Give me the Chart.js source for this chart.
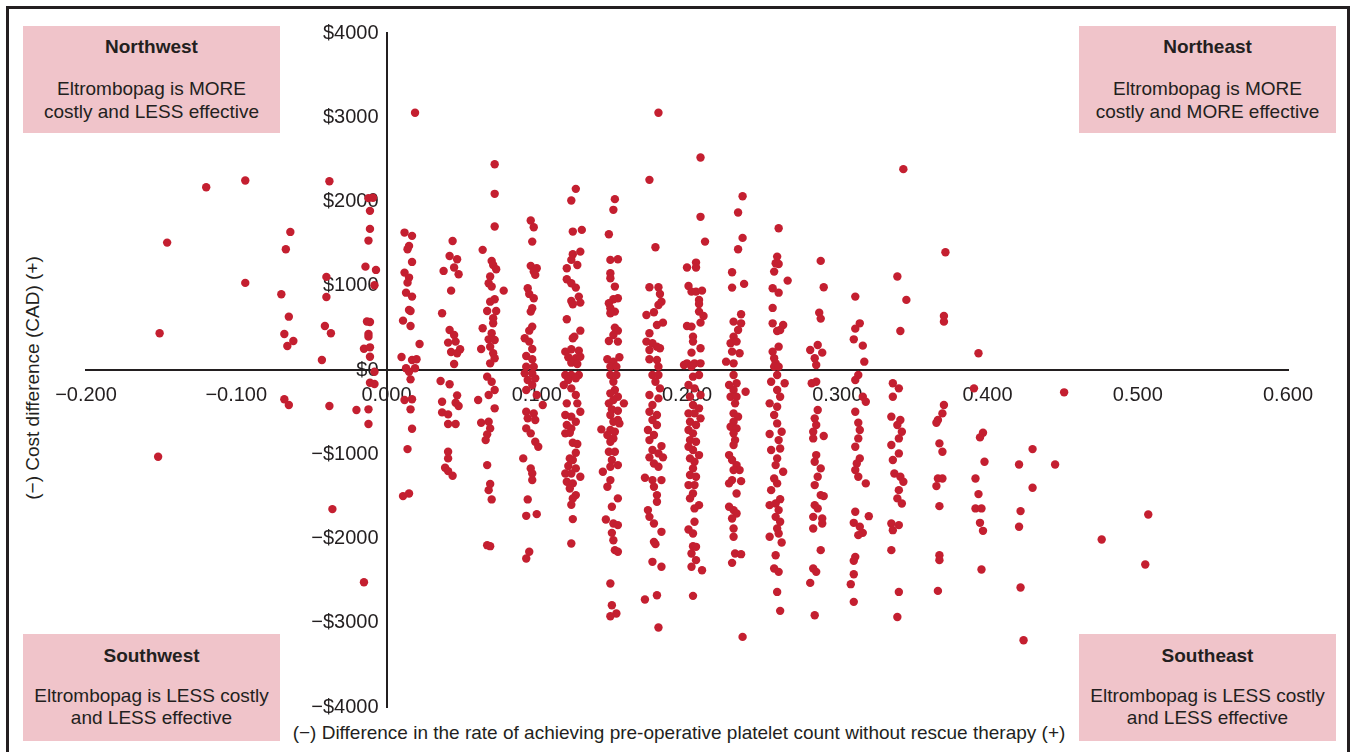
<!DOCTYPE html>
<html>
<head>
<meta charset="utf-8">
<script src="https://cdn.jsdelivr.net/npm/chart.js@4.4.1/dist/chart.umd.min.js"></script>
<style>
  body { margin: 0; background: #fff; font-family: "Liberation Sans", Arial, sans-serif; color: #231f20; }
  #wrap { position: relative; width: 1353px; height: 752px; overflow: hidden; }
  #frame { position: absolute; left: 6px; top: 6px; width: 1338px; height: 800px; border: 3px solid #231f20; }
  canvas { position: absolute; left: 0; top: 0; }
  .quad { position: absolute; width: 257px; height: 107px; background: #f0c4ca; text-align: center; }
  .quad .head { font-weight: bold; font-size: 19px; line-height: 22px; }
  .quad .body { font-size: 19px; }
  .ytitle { position: absolute; left: 33px; top: 378px; font-size: 19px; white-space: nowrap;
            transform: translate(-50%, -50%) rotate(-90deg); }
  .xtitle { position: absolute; left: 679px; top: 733px; font-size: 19px; white-space: nowrap;
            transform: translate(-50%, -50%); }
</style>
</head>
<body>
<div id="wrap">
  <div id="frame"></div>
  <div class="quad" style="left:23px; top:26px;">
    <div class="head" style="margin-top:10px;">Northwest</div>
    <div class="body" style="margin-top:19px; line-height:23px;">Eltrombopag is MORE<br>costly and LESS effective</div>
  </div>
  <div class="quad" style="left:1079px; top:26px;">
    <div class="head" style="margin-top:10px;">Northeast</div>
    <div class="body" style="margin-top:19px; line-height:23px;">Eltrombopag is MORE<br>costly and MORE effective</div>
  </div>
  <div class="quad" style="left:23px; top:634px;">
    <div class="head" style="margin-top:11px;">Southwest</div>
    <div class="body" style="margin-top:18px; line-height:22px;">Eltrombopag is LESS costly<br>and LESS effective</div>
  </div>
  <div class="quad" style="left:1079px; top:634px;">
    <div class="head" style="margin-top:11px;">Southeast</div>
    <div class="body" style="margin-top:18px; line-height:22px;">Eltrombopag is LESS costly<br>and LESS effective</div>
  </div>
  <div class="ytitle">(−) Cost difference (CAD) (+)</div>
  <div class="xtitle">(−) Difference in the rate of achieving pre-operative platelet count without rescue therapy (+)</div>
  <canvas id="plane" width="1353" height="752"></canvas>
</div>
<script>
// tick labels
const xTickLabels = ['−0.200', '−0.100', '0.000', '0.100', '0.200', '0.300', '0.400', '0.500', '0.600'];
const yTickLabels = ['−$4000', '−$3000', '−$2000', '−$1000', '$0', '$1000', '$2000', '$3000', '$4000'];

// simulation points [effect difference, cost difference], read column by column
const leftPoints = [[-0.146,1512],[-0.120,2170],[-0.094,2249],[-0.038,2241],[-0.012,2040],[-0.009,2045],[-0.011,1889],
  [-0.011,1675],[-0.012,1536],[-0.064,1639],[-0.067,1434],[-0.014,1227],[-0.007,1188],[-0.040,1105],[-0.008,1006],
  [-0.094,1034],[-0.070,899],[-0.040,867],[-0.065,633],[-0.151,436],[-0.041,523],[-0.037,436],[-0.013,576],[-0.011,570],
  [-0.012,428],[-0.012,396],[-0.068,428],[-0.062,345],[-0.066,285],[-0.015,253],[-0.011,269],[-0.011,158],[-0.043,119],
  [-0.008,-20],[-0.011,-151],[-0.008,-166],[-0.068,-348],[-0.065,-416],[-0.038,-428],[-0.020,-475],[-0.012,-467],
  [-0.012,-641],[-0.152,-1030],[-0.036,-1651],[-0.015,-2519]];
const col1 = [[0.019,3053],[0.012,1631],[0.017,1592],[0.015,1473],[0.014,1434],[0.017,1283],[0.012,1156],[0.015,1097],
  [0.014,1037],[0.013,918],[0.017,871],[0.015,713],[0.016,701],[0.011,586],[0.016,523],[0.022,309],[0.010,154],[0.017,119],
  [0.020,127],[0.013,20],[0.019,20],[0.015,-20],[0.016,-111],[0.012,-356],[0.017,-348],[0.016,-467],[0.017,-697],
  [0.014,-939],[0.011,-1497],[0.015,-1465]];
const col2 = [[0.044,1532],[0.042,1354],[0.047,1315],[0.038,1176],[0.045,1216],[0.048,1137],[0.043,942],[0.037,673],
  [0.042,475],[0.045,416],[0.041,325],[0.046,337],[0.049,246],[0.043,214],[0.047,198],[0.045,71],[0.036,-131],[0.042,-170],
  [0.047,-301],[0.037,-376],[0.046,-388],[0.048,-428],[0.037,-503],[0.041,-527],[0.041,-641],[0.046,-641],[0.041,-970],
  [0.041,-1049],[0.039,-1160],[0.041,-1200],[0.044,-1255]];
const col3 = [[0.072,2443],[0.072,2091],[0.072,1703],[0.064,1426],[0.070,1295],[0.071,1247],[0.073,1196],[0.069,1109],
  [0.068,1030],[0.070,990],[0.078,942],[0.072,840],[0.069,811],[0.067,701],[0.073,701],[0.071,614],[0.071,554],[0.064,495],
  [0.070,436],[0.068,364],[0.072,356],[0.063,249],[0.069,277],[0.071,198],[0.072,139],[0.069,79],[0.067,-79],[0.070,-139],
  [0.072,-238],[0.061,-356],[0.068,-297],[0.072,-455],[0.063,-626],[0.068,-614],[0.069,-693],[0.067,-764],[0.066,-832],
  [0.067,-1129],[0.069,-1354],[0.068,-1426],[0.070,-1536],[0.067,-2079],[0.069,-2091]];
const col4 = [[0.096,1774],[0.098,1695],[0.097,1524],[0.096,1236],[0.100,1208],[0.098,1168],[0.099,1129],[0.094,970],
  [0.095,903],[0.098,852],[0.097,733],[0.096,693],[0.097,515],[0.095,467],[0.092,376],[0.095,337],[0.097,249],[0.093,166],
  [0.097,127],[0.093,40],[0.098,40],[0.092,-40],[0.097,-40],[0.094,-119],[0.099,-99],[0.093,-238],[0.097,-178],[0.100,-297],
  [0.104,-416],[0.093,-495],[0.098,-515],[0.094,-574],[0.099,-594],[0.093,-693],[0.096,-752],[0.099,-851],[0.101,-911],
  [0.091,-1049],[0.096,-1168],[0.097,-1228],[0.097,-1307],[0.094,-1536],[0.093,-1731],[0.100,-1711],[0.095,-2158],
  [0.093,-2237]];
const col5 = [[0.126,2150],[0.123,2011],[0.124,1643],[0.130,1663],[0.129,1405],[0.124,1374],[0.123,1307],[0.127,1247],
  [0.120,1208],[0.120,1077],[0.123,1030],[0.126,978],[0.128,871],[0.123,820],[0.129,800],[0.124,780],[0.120,602],
  [0.129,467],[0.125,396],[0.124,376],[0.119,218],[0.123,246],[0.128,229],[0.121,151],[0.126,139],[0.129,158],[0.123,87],
  [0.127,71],[0.119,-59],[0.123,-59],[0.128,-59],[0.121,-119],[0.126,-99],[0.118,-178],[0.123,-218],[0.126,-297],
  [0.120,-396],[0.127,-396],[0.129,-495],[0.119,-535],[0.123,-554],[0.126,-614],[0.120,-653],[0.123,-693],[0.119,-752],
  [0.122,-744],[0.124,-864],[0.127,-879],[0.126,-982],[0.122,-1049],[0.124,-1069],[0.121,-1140],[0.126,-1168],
  [0.119,-1228],[0.123,-1228],[0.129,-1267],[0.120,-1327],[0.124,-1346],[0.122,-1406],[0.126,-1485],[0.124,-1524],
  [0.123,-1600],[0.124,-1770],[0.123,-2059]];
const col6 = [[0.152,2028],[0.151,1901],[0.148,1612],[0.149,1307],[0.154,1315],[0.149,1148],[0.149,1089],[0.152,990],
  [0.154,852],[0.151,840],[0.148,792],[0.149,733],[0.152,693],[0.149,673],[0.152,503],[0.154,467],[0.151,416],[0.154,337],
  [0.148,345],[0.147,127],[0.151,99],[0.155,151],[0.149,40],[0.153,40],[0.149,-59],[0.153,-59],[0.151,-139],[0.152,-238],
  [0.149,-277],[0.154,-317],[0.151,-356],[0.148,-396],[0.158,-396],[0.150,-467],[0.154,-483],[0.149,-535],[0.154,-594],
  [0.151,-614],[0.155,-634],[0.143,-705],[0.149,-713],[0.152,-733],[0.147,-772],[0.151,-812],[0.149,-851],[0.148,-970],
  [0.152,-970],[0.150,-1069],[0.154,-1129],[0.149,-1149],[0.144,-1208],[0.149,-1307],[0.147,-1386],[0.154,-1524],
  [0.150,-1624],[0.146,-1774],[0.151,-1822],[0.154,-1841],[0.150,-1933],[0.151,-2020],[0.152,-2138],[0.154,-2158],
  [0.149,-2534],[0.150,-2792],[0.153,-2891],[0.149,-2922]];
const col7 = [[0.181,3053],[0.175,2257],[0.179,1457],[0.175,982],[0.181,982],[0.182,903],[0.183,811],[0.181,772],
  [0.178,685],[0.173,653],[0.184,562],[0.180,535],[0.175,436],[0.173,337],[0.177,317],[0.180,277],[0.175,238],[0.182,258],
  [0.175,127],[0.180,119],[0.181,40],[0.177,-59],[0.181,-59],[0.179,-139],[0.182,-218],[0.175,-297],[0.181,-337],
  [0.177,-416],[0.175,-495],[0.180,-535],[0.177,-594],[0.180,-653],[0.174,-713],[0.178,-772],[0.175,-832],[0.183,-903],
  [0.177,-950],[0.181,-990],[0.175,-1037],[0.184,-1037],[0.178,-1109],[0.181,-1149],[0.172,-1279],[0.177,-1307],
  [0.183,-1307],[0.178,-1386],[0.180,-1485],[0.180,-1564],[0.174,-1663],[0.175,-1743],[0.178,-1822],[0.183,-1921],
  [0.178,-2040],[0.179,-2067],[0.177,-2277],[0.183,-2336],[0.172,-2724],[0.180,-2673],[0.181,-3057]];
const col8 = [[0.209,2522],[0.209,1818],[0.212,1524],[0.200,1216],[0.206,1275],[0.206,1216],[0.201,998],[0.203,930],
  [0.206,930],[0.210,942],[0.208,832],[0.208,784],[0.208,693],[0.211,641],[0.209,562],[0.200,523],[0.203,515],[0.204,396],
  [0.204,337],[0.209,258],[0.203,206],[0.200,79],[0.205,79],[0.209,79],[0.198,59],[0.203,40],[0.204,-79],[0.208,-59],
  [0.201,-178],[0.205,-218],[0.209,-297],[0.202,-317],[0.204,-416],[0.208,-455],[0.201,-515],[0.205,-515],[0.209,-574],
  [0.202,-614],[0.206,-653],[0.201,-713],[0.204,-752],[0.202,-832],[0.206,-851],[0.201,-911],[0.204,-950],[0.208,-1010],
  [0.202,-1049],[0.205,-1089],[0.204,-1168],[0.202,-1247],[0.206,-1267],[0.201,-1366],[0.205,-1366],[0.204,-1465],
  [0.202,-1524],[0.208,-1604],[0.205,-1643],[0.205,-1802],[0.201,-1893],[0.204,-1941],[0.204,-2091],[0.206,-2099],
  [0.203,-2178],[0.206,-2257],[0.203,-2336],[0.210,-2376],[0.204,-2681]];
const col9 = [[0.237,2063],[0.234,1869],[0.237,1568],[0.234,1434],[0.230,1160],[0.230,978],[0.238,1022],[0.236,662],
  [0.231,574],[0.236,554],[0.234,475],[0.231,396],[0.229,317],[0.233,337],[0.235,198],[0.230,218],[0.226,99],[0.231,79],
  [0.231,-59],[0.233,-158],[0.228,-178],[0.231,-238],[0.229,-317],[0.233,-317],[0.232,-396],[0.239,-258],[0.231,-515],
  [0.234,-554],[0.231,-614],[0.229,-673],[0.233,-693],[0.231,-752],[0.232,-832],[0.231,-891],[0.228,-1010],[0.230,-1069],
  [0.233,-1129],[0.235,-1188],[0.231,-1188],[0.236,-1319],[0.230,-1307],[0.228,-1346],[0.233,-1465],[0.228,-1624],
  [0.231,-1663],[0.233,-1703],[0.230,-1762],[0.231,-1881],[0.231,-1980],[0.232,-2178],[0.236,-2186],[0.230,-2289],
  [0.237,-3168]];
const col10 = [[0.261,1683],[0.260,1346],[0.259,1267],[0.261,1259],[0.258,1168],[0.267,1061],[0.257,970],[0.261,918],
  [0.257,737],[0.257,554],[0.264,535],[0.262,475],[0.260,463],[0.261,277],[0.257,218],[0.258,139],[0.259,79],[0.258,40],
  [0.261,40],[0.260,-59],[0.256,-139],[0.265,-158],[0.260,-238],[0.262,-317],[0.255,-396],[0.260,-436],[0.258,-535],
  [0.260,-634],[0.263,-733],[0.255,-760],[0.261,-832],[0.262,-931],[0.256,-950],[0.260,-1049],[0.259,-1129],[0.264,-1208],
  [0.258,-1287],[0.260,-1346],[0.256,-1426],[0.262,-1533],[0.259,-1584],[0.255,-1604],[0.261,-1663],[0.259,-1743],
  [0.262,-1802],[0.260,-1881],[0.255,-1980],[0.261,-1941],[0.263,-2047],[0.259,-2198],[0.258,-2356],[0.261,-2396],
  [0.260,-2634],[0.262,-2859]];
const col11 = [[0.289,1295],[0.291,982],[0.288,681],[0.289,610],[0.282,238],[0.287,297],[0.290,206],[0.285,139],
  [0.286,59],[0.283,-158],[0.286,-139],[0.287,-475],[0.285,-574],[0.286,-653],[0.284,-733],[0.291,-784],[0.284,-812],
  [0.286,-1010],[0.285,-1089],[0.289,-1168],[0.287,-1267],[0.285,-1366],[0.289,-1485],[0.291,-1497],[0.285,-1604],
  [0.287,-1643],[0.284,-1743],[0.290,-1762],[0.290,-1822],[0.284,-1881],[0.289,-2138],[0.284,-2356],[0.286,-2396],
  [0.282,-2527],[0.285,-2911]];
const col12 = [[0.312,871],[0.315,554],[0.312,491],[0.311,364],[0.317,289],[0.318,99],[0.314,-59],[0.312,-119],
  [0.317,-317],[0.319,-376],[0.312,-495],[0.314,-626],[0.315,-713],[0.314,-812],[0.312,-911],[0.315,-1049],[0.313,-1109],
  [0.312,-1188],[0.314,-1267],[0.319,-1346],[0.312,-1683],[0.321,-1735],[0.311,-1814],[0.315,-1861],[0.317,-1933],
  [0.314,-1960],[0.312,-2218],[0.311,-2265],[0.311,-2424],[0.309,-2542],[0.311,-2752]];
const col13 = [[0.344,2384],[0.340,1109],[0.346,832],[0.342,463],[0.337,-158],[0.341,-218],[0.337,-317],[0.336,-554],
  [0.342,-594],[0.340,-653],[0.343,-733],[0.341,-812],[0.336,-891],[0.341,-990],[0.337,-1069],[0.338,-1228],[0.342,-1267],
  [0.344,-1327],[0.341,-1426],[0.340,-1524],[0.343,-1584],[0.336,-1822],[0.341,-1841],[0.337,-1901],[0.336,-2138],
  [0.341,-2634],[0.340,-2931]];
const col14 = [[0.372,1398],[0.371,641],[0.371,574],[0.371,-416],[0.370,-515],[0.367,-594],[0.366,-626],[0.368,-871],
  [0.370,-970],[0.367,-1287],[0.370,-1287],[0.366,-1378],[0.368,-1616],[0.368,-2198],[0.368,-2257],[0.367,-2622]];
const rightTail = [[0.394,198],[0.391,-218],[0.397,-744],[0.395,-800],[0.398,-1089],[0.392,-1287],[0.394,-1473],
  [0.392,-1643],[0.396,-1643],[0.395,-1814],[0.397,-1909],[0.396,-2368],[0.421,-1121],[0.430,-939],[0.430,-1398],
  [0.422,-1675],[0.421,-1861],[0.422,-2582],[0.424,-3208],[0.451,-265],[0.445,-1121],[0.476,-2011],[0.507,-1715],
  [0.505,-2308]];

const allPoints = [].concat(leftPoints, col1, col2, col3, col4, col5, col6, col7, col8, col9, col10,
  col11, col12, col13, col14, rightTail).map(p => ({ x: p[0], y: p[1] }));

const axisColor = '#231f20';
const tickFont = { family: '"Liberation Sans", Arial, sans-serif', size: 20 };

new Chart(document.getElementById('plane'), {
  type: 'scatter',
  data: {
    datasets: [{
      data: allPoints,
      backgroundColor: '#c41f30',
      borderWidth: 0,
      pointRadius: 4.2,
    }],
  },
  options: {
    responsive: false,
    animation: false,
    layout: { padding: { left: 86, right: 65, top: 33, bottom: 45 } },
    plugins: { legend: { display: false }, tooltip: { enabled: false } },
    scales: {
      x: {
        type: 'linear',
        min: -0.2,
        max: 0.6,
        position: { y: 0 },
        z: 1,
        grid: { display: false, drawTicks: false },
        border: { display: true, color: axisColor, width: 2 },
        ticks: {
          stepSize: 0.1,
          padding: 13,
          color: axisColor,
          font: tickFont,
          callback: (v, i) => xTickLabels[i],
        },
      },
      // labels sit a little left of the vertical axis line
      y: {
        type: 'linear',
        min: -4000,
        max: 4000,
        position: { x: -0.0053 },
        z: 1,
        grid: { display: false, drawTicks: false },
        border: { display: false },
        ticks: {
          stepSize: 1000,
          color: axisColor,
          font: tickFont,
          callback: (v, i) => yTickLabels[i],
        },
      },
      yLine: {
        type: 'linear',
        axis: 'y',
        min: -4000,
        max: 4000,
        position: { x: 0 },
        z: 1,
        grid: { display: false, drawTicks: false },
        border: { display: true, color: axisColor, width: 2 },
        ticks: { display: false },
      },
    },
  },
});
</script>
</body>
</html>
